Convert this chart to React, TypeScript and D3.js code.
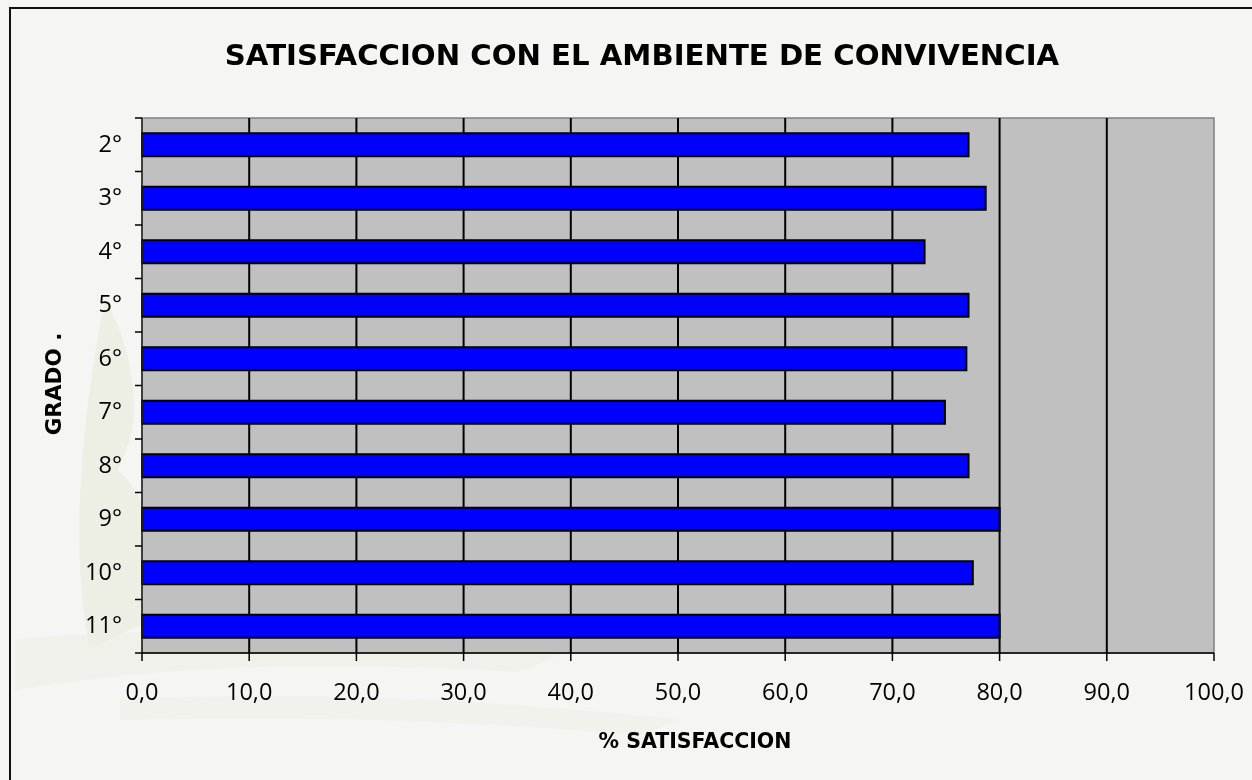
import { useEffect, useRef } from 'react';
import * as d3 from 'd3';

const grades = ['2°', '3°', '4°', '5°', '6°', '7°', '8°', '9°', '10°', '11°'];
const satisfaction = [77.1, 78.7, 73.0, 77.1, 76.9, 74.9, 77.1, 80.0, 77.5, 80.0];
const xTicks = [0, 10, 20, 30, 40, 50, 60, 70, 80, 90, 100];

const title = 'SATISFACCION CON EL AMBIENTE DE CONVIVENCIA';
const xTitle = '% SATISFACCION';
const yTitle = 'GRADO .';

const W = 1252;
const H = 780;
const plot = { left: 142, right: 1214, top: 118, bottom: 653 };
const boldFont = "'DejaVu Sans', Verdana, sans-serif";
const tickFont = "'Open Sans', Tahoma, sans-serif";

const App = () => {
  const svgRef = useRef<SVGSVGElement>(null);

  useEffect(() => {
    if (!svgRef.current) return;
    const svg = d3.select(svgRef.current);
    svg.selectAll('*').remove();

    const x = d3.scaleLinear().domain([0, 100]).range([plot.left, plot.right]);
    const y = d3.scaleBand<string>().domain(grades).range([plot.top, plot.bottom]).padding(0);
    const barH = y.bandwidth() * 0.43;

    // page background
    svg.append('rect').attr('width', W).attr('height', H).attr('fill', '#f5f6f3');

    // faint decoration behind the left side
    const deco = svg.append('g').attr('fill', '#eceee2').attr('opacity', 0.8);
    deco.append('path').attr('d', 'M105,300 C130,340 140,400 130,440 L118,470 C150,500 170,560 150,620 L90,650 C70,560 80,420 105,300 Z');
    deco.append('path').attr('d', 'M15,640 C150,625 350,630 560,655 L520,672 C350,662 180,662 15,690 Z').attr('opacity', 0.7);
    deco.append('path').attr('d', 'M120,700 C300,690 500,700 680,720 L640,735 C460,720 300,715 120,720 Z').attr('opacity', 0.5);

    // frame (only left and top visible)
    svg.append('rect')
      .attr('x', 10)
      .attr('y', 8)
      .attr('width', W + 20)
      .attr('height', H + 20)
      .attr('fill', 'none')
      .attr('stroke', '#111')
      .attr('stroke-width', 2);

    // plot area
    svg.append('rect')
      .attr('x', plot.left)
      .attr('y', plot.top)
      .attr('width', plot.right - plot.left)
      .attr('height', plot.bottom - plot.top)
      .attr('fill', '#c0c0c0')
      .attr('stroke', '#808080')
      .attr('stroke-width', 1.5);

    // vertical grid
    svg.append('g')
      .selectAll('line')
      .data(xTicks.slice(1, -1))
      .join('line')
      .attr('x1', (d) => x(d))
      .attr('x2', (d) => x(d))
      .attr('y1', plot.top)
      .attr('y2', plot.bottom)
      .attr('stroke', '#000')
      .attr('stroke-width', 2);

    // bars
    svg.append('g')
      .selectAll('rect')
      .data(grades)
      .join('rect')
      .attr('x', x(0))
      .attr('y', (d) => (y(d) as number) + (y.bandwidth() - barH) / 2)
      .attr('width', (d, i) => x(satisfaction[i]) - x(0))
      .attr('height', barH)
      .attr('fill', '#0000ff')
      .attr('stroke', '#000')
      .attr('stroke-width', 2);

    // axes lines
    svg.append('line')
      .attr('x1', plot.left).attr('x2', plot.left)
      .attr('y1', plot.top).attr('y2', plot.bottom)
      .attr('stroke', '#222').attr('stroke-width', 1.5);
    svg.append('line')
      .attr('x1', plot.left).attr('x2', plot.right)
      .attr('y1', plot.bottom).attr('y2', plot.bottom)
      .attr('stroke', '#000').attr('stroke-width', 1.5);

    // y ticks at band edges
    const yEdges = grades.map((g) => y(g) as number).concat([plot.bottom]);
    svg.append('g')
      .selectAll('line')
      .data(yEdges)
      .join('line')
      .attr('x1', plot.left - 7)
      .attr('x2', plot.left)
      .attr('y1', (d) => d)
      .attr('y2', (d) => d)
      .attr('stroke', '#000')
      .attr('stroke-width', 1.5);

    // x ticks
    svg.append('g')
      .selectAll('line')
      .data(xTicks)
      .join('line')
      .attr('x1', (d) => x(d))
      .attr('x2', (d) => x(d))
      .attr('y1', plot.bottom)
      .attr('y2', plot.bottom + 8)
      .attr('stroke', '#000')
      .attr('stroke-width', 1.5);

    // x tick labels
    svg.append('g')
      .selectAll('text')
      .data(xTicks)
      .join('text')
      .attr('x', (d) => x(d))
      .attr('y', 700)
      .attr('text-anchor', 'middle')
      .attr('font-family', tickFont)
      .attr('font-size', 23.5)
      .attr('fill', '#000')
      .text((d) => d.toFixed(1).replace('.', ','));

    // y tick labels
    svg.append('g')
      .selectAll('text')
      .data(grades)
      .join('text')
      .attr('x', 122)
      .attr('y', (d) => (y(d) as number) + y.bandwidth() / 2 + 7)
      .attr('text-anchor', 'end')
      .attr('font-family', tickFont)
      .attr('font-size', 23.5)
      .attr('fill', '#000')
      .text((d) => d);

    // title
    svg.append('text')
      .attr('x', 642)
      .attr('y', 65)
      .attr('text-anchor', 'middle')
      .attr('font-family', boldFont)
      .attr('font-weight', 'bold')
      .attr('font-size', 29.2)
      .text(title);

    // axis titles
    svg.append('text')
      .attr('x', (plot.left + plot.right) / 2 + 17)
      .attr('y', 748)
      .attr('text-anchor', 'middle')
      .attr('font-family', boldFont)
      .attr('font-weight', 'bold')
      .attr('font-size', 20.5)
      .text(xTitle);

    svg.append('text')
      .attr('transform', `translate(61,384) rotate(-90)`)
      .attr('text-anchor', 'middle')
      .attr('font-family', boldFont)
      .attr('font-weight', 'bold')
      .attr('font-size', 21.5)
      .text(yTitle);
  }, []);

  return (
    <svg
      ref={svgRef}
      width={W}
      height={H}
      style={{ position: 'absolute', left: 0, top: 0, display: 'block' }}
    />
  );
};

export default App;
